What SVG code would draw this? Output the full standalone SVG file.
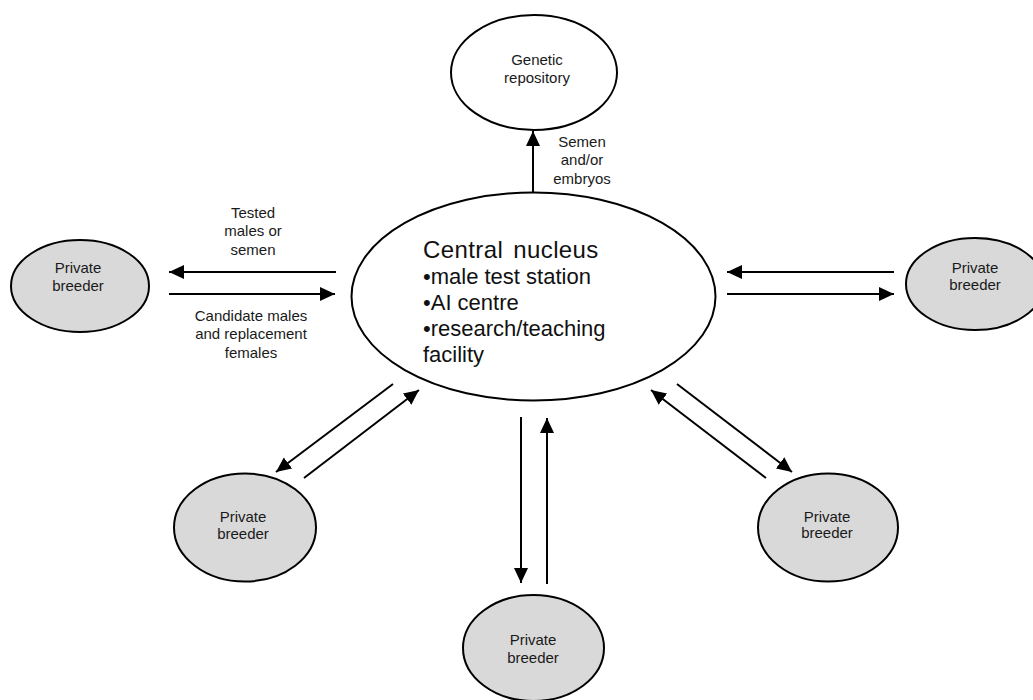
<svg xmlns="http://www.w3.org/2000/svg" width="1033" height="700" viewBox="0 0 1033 700">
<style>
  .node { stroke: #000; stroke-width: 2; }
  .central { fill: #fff; }
  .breeder { fill: #d9d9d9; }
  .lbl { font-family: "Liberation Sans", Arial, sans-serif; font-size: 15px; fill: #1a1a1a; text-anchor: middle; }
  .big { font-family: "Liberation Sans", Arial, sans-serif; fill: #111; }
  .conn line { stroke: #000; stroke-width: 2; marker-end: url(#arrow); }
</style>
<defs>
  <marker id="arrow" markerUnits="userSpaceOnUse" markerWidth="16" markerHeight="15" refX="15" refY="7" orient="auto">
    <path d="M0,0 L15,7 L0,14 z" fill="#000"/>
  </marker>
</defs>
<rect width="1033" height="700" fill="#fff"/>

<g id="connectors" class="conn">
  <line x1="533" y1="192" x2="533" y2="131"/>
  <line x1="336" y1="272" x2="169" y2="272"/>
  <line x1="169" y1="294" x2="335" y2="294"/>
  <line x1="894" y1="272" x2="727" y2="272"/>
  <line x1="727" y1="294" x2="894" y2="294"/>
  <line x1="393" y1="384" x2="276" y2="472"/>
  <line x1="304" y1="478" x2="419" y2="390"/>
  <line x1="521" y1="417" x2="521" y2="583"/>
  <line x1="547" y1="584" x2="547" y2="418"/>
  <line x1="677" y1="384" x2="792" y2="472"/>
  <line x1="766" y1="478" x2="651" y2="390"/>
</g>

<g id="edge-labels">
  <text class="lbl" x="582" y="147">Semen</text>
  <text class="lbl" x="582" y="165">and/or</text>
  <text class="lbl" x="582" y="184">embryos</text>
  <text class="lbl" x="253" y="218">Tested</text>
  <text class="lbl" x="253" y="236">males or</text>
  <text class="lbl" x="253" y="255">semen</text>
  <text class="lbl" x="251" y="321">Candidate males</text>
  <text class="lbl" x="251" y="339">and replacement</text>
  <text class="lbl" x="251" y="358">females</text>
</g>

<g id="genetic-repository">
  <ellipse class="node central" cx="534" cy="72.5" rx="83" ry="57.5"/>
  <text class="lbl" x="537" y="65">Genetic</text>
  <text class="lbl" x="537" y="83">repository</text>
</g>

<g id="central-nucleus">
  <ellipse class="node central" cx="533.5" cy="296.5" rx="182" ry="104"/>
  <text class="big" x="423" y="258" font-size="24" word-spacing="3" letter-spacing="0.4">Central nucleus</text>
  <text class="big" x="423" y="284" font-size="22">•male test station</text>
  <text class="big" x="423" y="310" font-size="22">•AI centre</text>
  <text class="big" x="423" y="336" font-size="22">•research/teaching</text>
  <text class="big" x="423" y="362" font-size="22">facility</text>
</g>

<g id="breeder-left">
  <ellipse class="node breeder" cx="80" cy="286" rx="69" ry="46"/>
  <text class="lbl" x="78" y="273">Private</text>
  <text class="lbl" x="78" y="291">breeder</text>
</g>

<g id="breeder-right">
  <ellipse class="node breeder" cx="975" cy="284" rx="69" ry="46"/>
  <text class="lbl" x="975" y="273">Private</text>
  <text class="lbl" x="975" y="290">breeder</text>
</g>

<g id="breeder-lower-left">
  <ellipse class="node breeder" cx="245" cy="527.5" rx="71" ry="54"/>
  <text class="lbl" x="243" y="522">Private</text>
  <text class="lbl" x="243" y="539">breeder</text>
</g>

<g id="breeder-lower-right">
  <ellipse class="node breeder" cx="828" cy="527.5" rx="70" ry="54"/>
  <text class="lbl" x="827" y="522">Private</text>
  <text class="lbl" x="827" y="538">breeder</text>
</g>

<g id="breeder-bottom">
  <ellipse class="node breeder" cx="533.5" cy="648" rx="70.5" ry="53"/>
  <text class="lbl" x="533" y="645">Private</text>
  <text class="lbl" x="533" y="663">breeder</text>
</g>
</svg>
